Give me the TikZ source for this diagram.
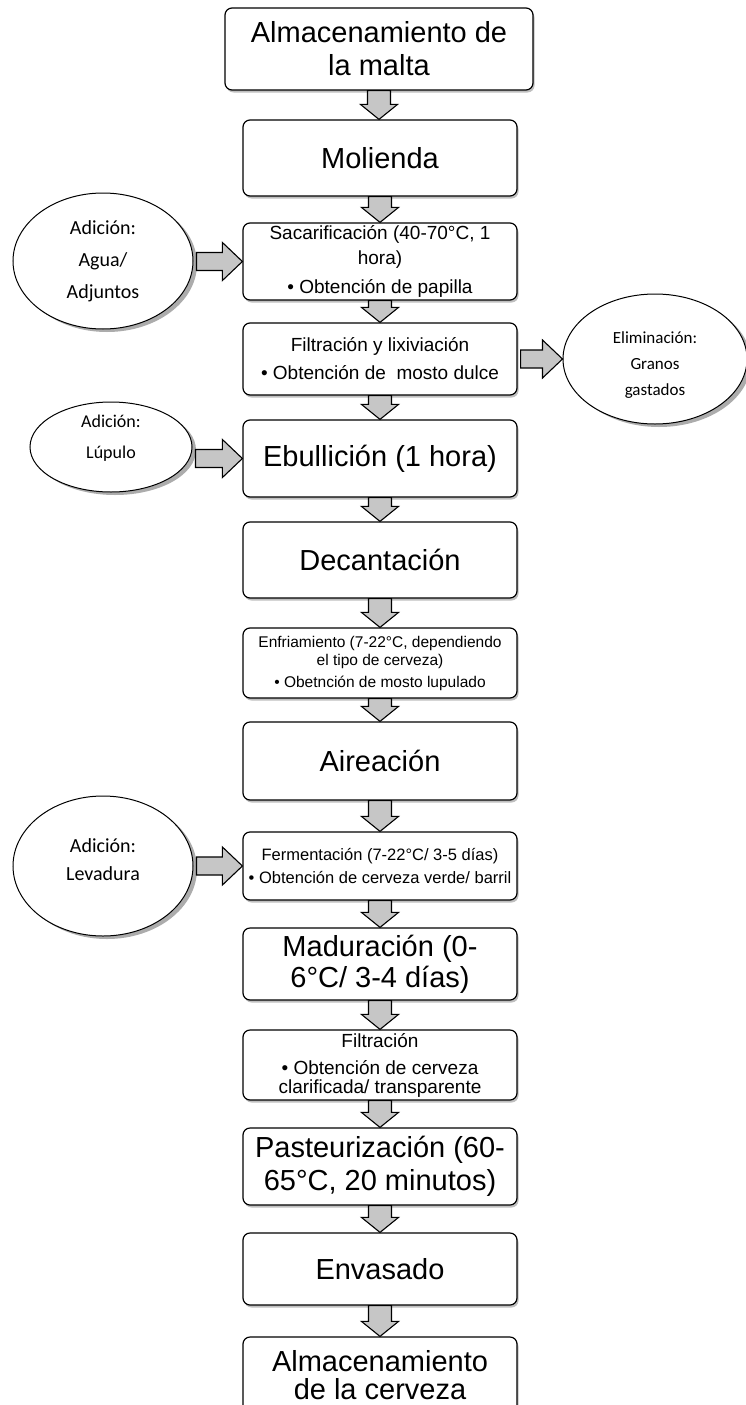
\documentclass[tikz,border=0pt]{standalone}
\usepackage{fontspec}
\setmainfont{Liberation Sans}
\newfontfamily\calib{Carlito}
\usetikzlibrary{shapes.geometric,shadows,calc}

\tikzset{
  box/.style={draw=black, line width=1.2pt, rounded corners=7pt, fill=white,
    minimum width=274pt, inner sep=0pt, align=center,
    drop shadow={fill=black, opacity=0.25, shadow xshift=1.5pt, shadow yshift=-2.5pt}},
  big/.style={font=\fontsize{29}{33}\selectfont},
  small/.style={font=\fontsize{19}{25}\selectfont},
  ell/.style={draw=black, ellipse, line width=1pt, fill=white, inner sep=0pt, align=center,
    drop shadow={fill=gray!65, opacity=1, shadow xshift=4pt, shadow yshift=-3pt}},
  etext/.style={align=center, inner sep=0pt},
  blk/.style={draw=black, line width=1.1pt, fill=gray!45, line join=miter}
}

\newcommand{\darr}[2]{%
  \path[blk] let \p1=(#1.south), \p2=(#2.north) in
    (\x1-11.5pt,\y1) -- (\x1+11.5pt,\y1) -- (\x1+11.5pt,\y2+15pt) -- (\x1+18.5pt,\y2+15pt)
    -- (\x1,\y2) -- (\x1-18.5pt,\y2+15pt) -- (\x1-11.5pt,\y2+15pt) -- cycle;}
\newcommand{\rarr}[3]{%
  \path[blk] let \p1=(#1), \p2=(#2), \p3=(#3) in
    (\x1+3pt,\y3-9pt) -- (\x2-20pt,\y3-9pt) -- (\x2-20pt,\y3-19pt) -- (\x2,\y3)
    -- (\x2-20pt,\y3+19pt) -- (\x2-20pt,\y3+9pt) -- (\x1+3pt,\y3+9pt) -- cycle;}

\begin{document}
\begin{tikzpicture}[x=1pt,y=-1pt]
\useasboundingbox (0,0) rectangle (746,1405);
\fill[white] (0,0) rectangle (746,1405);

\node[box,big,minimum width=308pt,minimum height=82pt] (b1) at (379,49) {Almacenamiento de\\la malta};
\node[box,big,minimum height=76pt] (b2) at (380,158) {Molienda};
\node[box,small,minimum height=77pt] (b3) at (380,261.5) {Sacarificación (40-70°C, 1\\hora)\\[4pt]• Obtención de papilla};
\node[box,font=\fontsize{19}{28}\selectfont,minimum height=72pt] (b4) at (380,359) {Filtración y lixiviación\\• Obtención de~~mosto dulce};
\node[box,big,minimum height=77pt] (b5) at (380,458.5) {Ebullición (1 hora)};
\node[box,big,minimum height=76pt] (b6) at (380,560) {Decantación};
\node[box,font=\fontsize{15.5}{18}\selectfont,minimum height=70pt] (b7) at (380,663) {Enfriamiento (7-22°C, dependiendo\\el tipo de cerveza)\\[4pt]• Obetnción de mosto lupulado};
\node[box,big,minimum height=78pt] (b8) at (380,761) {Aireación};
\node[box,font=\fontsize{16.5}{23}\selectfont,minimum height=68pt] (b9) at (380,866) {Fermentación (7-22°C/ 3-5 días)\\• Obtención de cerveza verde/ barril};
\node[box,font=\fontsize{29}{31}\selectfont,minimum height=72pt] (b10) at (380,964) {Maduración (0-\\6°C/ 3-4 días)};
\node[box,font=\fontsize{19}{19}\selectfont,minimum height=70pt] (b11) at (380,1065) {Filtración\\[8pt]• Obtención de cerveza\\clarificada/ transparente};
\node[box,big,minimum height=77pt] (b12) at (380,1166.5) {Pasteurización (60-\\65°C, 20 minutos)};
\node[box,big,minimum height=72pt] (b13) at (380,1269) {Envasado};
\node[box,font=\fontsize{29}{28}\selectfont,minimum height=76pt] (b14) at (380,1375) {Almacenamiento\\de la cerveza};

\node[ell,minimum width=180pt,minimum height=136pt,
  label={[etext,font=\calib\fontsize{20}{32}\selectfont]center:{Adición:\\Agua/\\Adjuntos}}] (e1) at (103,261) {};
\node[ell,minimum width=184pt,minimum height=130pt,
  label={[etext,yshift=-6pt,font=\calib\fontsize{17}{26}\selectfont]center:{Eliminación:\\Granos\\gastados}}] (e2) at (655,359) {};
\node[ell,minimum width=162pt,minimum height=90pt,
  label={[etext,yshift=9pt,font=\calib\fontsize{18}{31}\selectfont]center:{Adición:\\Lúpulo}}] (e3) at (111,447) {};
\node[ell,minimum width=180pt,minimum height=140pt,
  label={[etext,yshift=6pt,font=\calib\fontsize{20}{28}\selectfont]center:{Adición:\\Levadura}}] (e4) at (103,866) {};

\darr{b1}{b2}
\darr{b2}{b3}
\darr{b3}{b4}
\darr{b4}{b5}
\darr{b5}{b6}
\darr{b6}{b7}
\darr{b7}{b8}
\darr{b8}{b9}
\darr{b9}{b10}
\darr{b10}{b11}
\darr{b11}{b12}
\darr{b12}{b13}
\darr{b13}{b14}

\rarr{e1.east}{b3.west}{b3.west}
\rarr{b4.east}{e2.west}{b4.east}
\rarr{e3.east}{b5.west}{b5.west}
\rarr{e4.east}{b9.west}{b9.west}
\end{tikzpicture}
\end{document}
